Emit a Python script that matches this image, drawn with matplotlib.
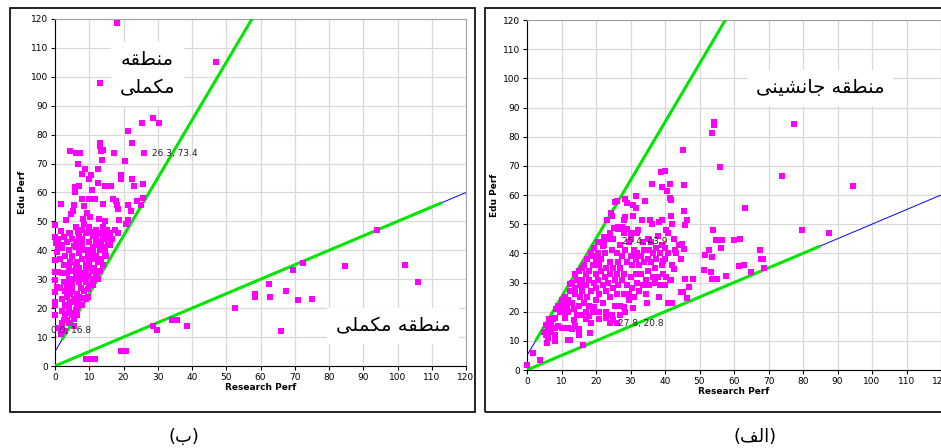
"""Two scatter panels (ب / الف) of Edu Perf vs Research Perf."""

import matplotlib

matplotlib.use("Agg")

import matplotlib.pyplot as plt
from matplotlib.patches import Rectangle

plt.rcParams["font.family"] = ["DejaVu Sans"]

# Persian strings written in visual order with Arabic presentation forms
# (matplotlib has no text shaping / bidi).
TXT_MANTAGHE_MOKAMMELI_2L = "\uFEEA\uFED8\uFEC4\uFEE8\uFEE3\n\uFEF0\uFEE0\uFEE4\uFEDC\uFEE3"
TXT_MANTAGHE_MOKAMMELI = "\uFEF0\uFEE0\uFEE4\uFEDC\uFEE3 \uFEEA\uFED8\uFEC4\uFEE8\uFEE3"
TXT_MANTAGHE_JANESHINI = "\uFEF0\uFEE8\uFEF4\uFEB8\uFEE7\uFE8E\uFE9F \uFEEA\uFED8\uFEC4\uFEE8\uFEE3"
CAPTION_B = "(\uFE8F)"
CAPTION_ALEF = "(\uFED2\uFEDF\uFE8D)"

# reference lines: y = intercept + slope * x
steep_line = (5.0, 2.0)
flat_line = (0.0, 0.5)
b_green_steep = (2.0, 60.0)
b_green_flat = (0.0, 113.0)
alef_green_steep = (2.5, 60.0)
alef_green_flat = (0.0, 85.0)

# panel (ب)
b_points = [
    (18.0, 118.6), (47.1, 105.2), (13.1, 97.7), (28.6, 85.8), (30.3, 84.1),
    (25.3, 84.1), (21.3, 81.1), (22.5, 77.2), (13.0, 77.2), (13.1, 76.0),
    (13.3, 74.3), (14.1, 74.6), (26.1, 73.5), (17.1, 73.5), (20.3, 70.8),
    (13.8, 71.1), (4.4, 74.2), (6.2, 73.8), (7.3, 73.8), (6.7, 70.0),
    (12.5, 68.0), (8.8, 68.1), (7.9, 66.5), (10.6, 66.2), (9.8, 64.6),
    (19.2, 64.6), (19.4, 66.2), (22.4, 64.6), (12.7, 63.4), (14.5, 62.4),
    (16.4, 62.4), (23.0, 62.4), (25.8, 62.8), (7.0, 62.4), (5.8, 61.8),
    (5.9, 60.2), (10.7, 60.9), (7.8, 57.6), (9.8, 57.6), (11.6, 57.6),
    (16.8, 57.9), (17.7, 56.9), (14.1, 56.0), (18.2, 55.8), (18.4, 54.4),
    (21.4, 55.8), (23.9, 57.2), (25.8, 58.1), (25.0, 55.8), (22.1, 53.7),
    (1.7, 56.0), (5.6, 55.8), (5.2, 53.5), (8.5, 55.3), (9.3, 52.8),
    (10.2, 51.6), (8.2, 50.9), (12.9, 50.7), (4.7, 52.6), (3.3, 50.5),
    (0.0, 48.7), (1.7, 46.7), (4.3, 46.1), (6.7, 46.3), (14.7, 50.2),
    (18.6, 50.5), (21.4, 50.5), (20.8, 49.2), (17.5, 47.0), (18.3, 45.9),
    (15.3, 47.2), (12.4, 45.9),
    (0.0, 44.5), (1.0, 44.0), (0.3, 42.5), (1.7, 42.0), (1.0, 40.7),
    (0.5, 39.5), (2.0, 40.7), (0.0, 36.6), (0.0, 32.6), (1.0, 32.6),
    (0.0, 29.7), (0.5, 27.4), (0.0, 25.6), (0.0, 22.2), (0.0, 21.0),
    (0.0, 17.6), (2.0, 14.9), (2.0, 13.5), (2.5, 15.8), (1.8, 11.2),
    (6.3, 17.8), (5.5, 16.4),
    (3.0, 18.0), (4.0, 20.0), (5.0, 17.5), (6.0, 19.5), (4.5, 22.0),
    (3.5, 24.0), (5.5, 23.0), (7.0, 22.0), (6.5, 25.0), (3.0, 26.0),
    (4.0, 27.0), (5.0, 28.0), (7.5, 27.0), (8.5, 26.0), (9.0, 29.0),
    (2.5, 29.0), (4.0, 30.0), (6.0, 31.0), (8.0, 30.0), (10.0, 31.0),
    (11.0, 30.0), (3.5, 32.0), (5.0, 33.0), (7.0, 34.0), (9.0, 33.0),
    (11.5, 34.0), (12.0, 32.0), (2.5, 35.0), (4.5, 36.0), (6.5, 36.0),
    (8.0, 37.0), (10.0, 36.0), (12.5, 36.0), (13.5, 37.0), (5.0, 38.0),
    (7.0, 39.0), (9.0, 40.0), (11.0, 39.0), (13.0, 40.0), (14.5, 41.0),
    (6.0, 41.0), (8.0, 42.0), (10.0, 43.0), (12.0, 42.0), (14.0, 44.0),
    (15.5, 43.0), (3.5, 43.0), (5.0, 44.0), (7.0, 45.0), (9.0, 46.0),
    (11.0, 45.0), (13.0, 46.0), (15.0, 47.0), (16.0, 42.0), (15.0, 38.0),
    (14.0, 35.0), (12.5, 30.0), (11.0, 28.0), (9.5, 24.0), (8.0, 21.0),
    (5.5, 14.0), (3.0, 12.0), (4.0, 15.0), (6.5, 20.0), (7.0, 29.0),
    (10.0, 34.0), (12.0, 38.0), (14.5, 39.0), (3.0, 38.0), (4.0, 40.0),
    (6.0, 43.0), (8.0, 44.0), (9.5, 38.0), (11.0, 41.0), (13.0, 43.0),
    (4.0, 34.0), (6.0, 35.0), (8.0, 32.0), (10.0, 28.0), (5.0, 26.0),
    (7.0, 24.0), (3.0, 21.0), (4.5, 25.0), (2.0, 23.0), (9.0, 31.0),
    (11.0, 33.0), (13.0, 33.0), (15.0, 45.0), (16.0, 46.0), (12.0, 47.0),
    (10.0, 48.0), (8.0, 47.0), (6.0, 48.0), (4.0, 46.0), (2.0, 19.0),
    (1.5, 27.0), (2.0, 32.0), (1.5, 37.0), (7.5, 40.0), (9.0, 35.0),
    (11.5, 37.0), (13.5, 42.0), (16.5, 44.0), (14.0, 48.0), (10.5, 46.5),
    (8.5, 49.0), (6.5, 33.0), (5.5, 30.0), (3.5, 28.0), (7.5, 31.5),
    (9.5, 26.5), (8.5, 23.5), (6.0, 22.0), (4.5, 18.5), (3.5, 16.0),
    (1.0, 13.0), (10.5, 40.0), (12.0, 44.0), (2.5, 44.5), (5.5, 41.5),
    (9.0, 23.0),
    (9.0, 2.3), (10.2, 2.3), (11.7, 2.3), (19.2, 5.2), (20.7, 5.2),
    (28.6, 13.9), (29.7, 12.6), (34.3, 15.8), (35.6, 15.8), (38.5, 13.9),
    (52.5, 20.2), (58.3, 24.8), (58.3, 23.9), (62.5, 28.2), (62.8, 23.9),
    (65.9, 12.1), (67.5, 26.1), (69.4, 33.1), (71.0, 22.8), (72.4, 35.7),
    (74.9, 23.2), (84.7, 34.7), (94.0, 47.0), (102.3, 35.0), (106.0, 29.1),
]
b_labels = [("26.3, 73.4", 28.4, 73.4), ("0.0, 16.8", -1.3, 12.2)]

# panel (الف)
alef_points = [
    (77.4, 84.2), (54.2, 85.2), (54.2, 84.0), (53.7, 81.4), (45.2, 75.4),
    (56.0, 69.5), (73.8, 66.5), (94.4, 63.0), (38.7, 67.9), (40.0, 68.2),
    (36.1, 63.9), (39.0, 62.6), (41.4, 63.9), (40.6, 61.3), (41.4, 59.0),
    (41.6, 58.2), (45.5, 63.3), (31.6, 59.7), (34.2, 57.9), (25.4, 57.5),
    (26.2, 57.8), (28.5, 58.5), (29.0, 57.2), (30.8, 56.6), (31.6, 55.4),
    (24.3, 53.7), (24.6, 52.8), (23.2, 51.4), (28.5, 52.3), (28.0, 51.4),
    (30.6, 52.8), (45.5, 54.6), (41.6, 52.7), (46.4, 51.4), (45.9, 49.7),
    (39.0, 51.4), (38.4, 50.6), (33.3, 51.4), (35.7, 51.4), (36.2, 50.1),
    (40.4, 48.0), (32.3, 48.0), (25.3, 48.7), (26.5, 49.1), (29.0, 48.2),
    (30.0, 46.9), (22.2, 45.7), (23.2, 45.7), (22.2, 42.9), (63.3, 55.4),
    (54.0, 48.1), (54.7, 44.6), (56.4, 44.6), (60.0, 44.6), (61.6, 44.9),
    (56.2, 41.9), (52.7, 41.1), (51.6, 39.3), (53.5, 38.6), (51.4, 34.3),
    (53.3, 33.7), (53.7, 31.1), (55.1, 31.3), (57.7, 32.1), (61.4, 35.8),
    (62.8, 36.0), (64.9, 33.7), (67.4, 41.1), (67.9, 37.9), (68.5, 38.1),
    (68.6, 35.1), (79.6, 48.0), (87.6, 47.0), (44.9, 43.3), (45.4, 41.6),
    (43.1, 40.0), (39.4, 37.5), (42.6, 34.5), (45.8, 31.1), (48.1, 31.1),
    (40.2, 31.8), (41.6, 30.9), (46.9, 28.6), (45.2, 26.6), (44.7, 26.9),
    (46.4, 24.6), (40.8, 22.9), (42.0, 22.9), (38.2, 25.0), (34.8, 23.1),
    (30.7, 21.1), (18.6, 16.2), (18.3, 12.6), (16.1, 8.7), (11.8, 10.3),
    (12.4, 10.3), (8.1, 10.1), (5.9, 9.1), (3.9, 3.4), (1.7, 5.9),
    (0.0, 1.6),
    (5.5, 12.0), (6.0, 14.0), (6.5, 15.0), (5.0, 13.0), (7.0, 16.0),
    (7.5, 17.5), (6.5, 17.5), (8.0, 18.0), (5.5, 15.5), (7.0, 13.0),
    (8.0, 14.5), (9.0, 15.0), (9.5, 20.0), (8.5, 21.0), (9.0, 22.0),
    (10.0, 23.0), (10.0, 24.0), (6.0, 11.0), (8.0, 12.0),
    (10.5, 21.0), (11.0, 25.0), (11.5, 22.0), (12.0, 24.0), (12.0, 20.0),
    (12.5, 27.0), (13.0, 23.0), (13.0, 30.0), (13.5, 21.0), (14.0, 26.0),
    (14.0, 28.0), (14.5, 19.0), (14.5, 31.0), (11.0, 18.0), (12.0, 14.5),
    (13.0, 14.0), (11.0, 14.5), (10.0, 14.5), (14.0, 15.0), (15.0, 14.0),
    (15.0, 12.0), (13.5, 17.0), (14.0, 33.0), (15.0, 34.0), (15.0, 22.0),
    (12.5, 29.5), (11.0, 19.0),
    (15.5, 25.0), (15.5, 29.0), (16.0, 27.0), (16.0, 31.0), (16.5, 23.0),
    (16.5, 36.0), (17.0, 20.0), (17.0, 33.0), (17.0, 29.0), (17.5, 38.0),
    (17.5, 25.0), (18.0, 22.0), (18.0, 31.0), (18.0, 34.0), (18.5, 40.0),
    (18.5, 27.0), (19.0, 36.0), (19.0, 20.0), (19.5, 30.0), (19.5, 42.0),
    (20.0, 24.0), (20.0, 33.0), (20.0, 38.0), (16.0, 19.0), (17.0, 17.5),
    (18.0, 18.5), (15.8, 35.0), (19.0, 39.0), (20.0, 28.0), (19.5, 21.5),
    (20.5, 40.0), (20.5, 31.0), (21.0, 36.0), (21.0, 26.0), (21.0, 20.0),
    (21.5, 34.0), (21.5, 38.0), (22.0, 29.0), (22.0, 44.0), (22.0, 23.0),
    (22.5, 32.0), (22.5, 40.0), (23.0, 27.0), (23.0, 35.0), (23.0, 20.0),
    (23.5, 45.0), (23.5, 30.0), (24.0, 37.0), (24.0, 25.0), (24.0, 33.0),
    (24.5, 41.0), (24.5, 19.0), (25.0, 28.0), (25.0, 35.0), (25.0, 45.0),
    (25.5, 31.0), (25.5, 22.0), (25.0, 17.0), (24.0, 16.0), (23.0, 18.0),
    (21.0, 17.5), (22.0, 42.5), (20.5, 44.0), (24.0, 47.0),
    (26.0, 33.0), (26.0, 40.0), (26.0, 26.0), (26.5, 37.0), (26.5, 29.0),
    (27.0, 43.0), (27.0, 22.0), (27.0, 35.0), (27.5, 39.0), (27.5, 31.0),
    (28.0, 26.0), (28.0, 47.0), (28.0, 33.0), (28.5, 41.0), (28.5, 20.0),
    (29.0, 37.0), (29.0, 29.0), (29.5, 44.0), (29.5, 24.0), (30.0, 39.0),
    (30.0, 32.0), (26.0, 16.0), (27.0, 19.0), (28.0, 21.5), (29.5, 26.0),
    (26.5, 48.5), (27.5, 49.0), (30.0, 45.0),
    (30.5, 36.0), (30.5, 28.0), (31.0, 41.0), (31.0, 25.0), (31.5, 38.0),
    (31.5, 33.0), (32.0, 30.0), (32.0, 40.0), (32.0, 47.0), (32.5, 27.0),
    (32.5, 36.0), (33.0, 39.0), (33.0, 33.0), (33.5, 44.0), (33.5, 29.0),
    (34.0, 37.0), (34.0, 41.0), (34.5, 26.0), (34.5, 31.0), (35.0, 38.0),
    (35.0, 45.0), (35.0, 34.0),
    (35.5, 41.0), (35.5, 29.0), (36.0, 37.0), (36.0, 44.0), (36.5, 32.0),
    (36.5, 40.0), (37.0, 35.0), (37.0, 30.0), (37.5, 42.0), (37.5, 38.0),
    (38.0, 32.0), (38.0, 46.0), (38.5, 29.0), (38.5, 40.0), (39.0, 36.0),
    (39.0, 43.0), (39.5, 33.0), (40.0, 42.0), (40.0, 29.0), (40.0, 38.0),
    (41.0, 40.0), (41.5, 31.0), (42.0, 36.0), (42.5, 45.0), (43.0, 41.0),
    (44.0, 43.0), (41.0, 47.0), (42.0, 50.0), (44.5, 38.0),
]
alef_labels = [("25.4, 43.9", 27.5, 44.2), ("27.8, 20.8", 26.4, 16.0)]

MAGENTA = "#ff00ff"
GREEN = "#00e600"
BLUE = "#0000ff"


def _draw_line(ax, line, x0, x1, color, lw):
    b, m = line
    ax.plot([x0, x1], [b + m * x0, b + m * x1], color=color, lw=lw,
            solid_capstyle="butt", zorder=3, clip_on=True)


def _panel(ax, points, labels, green_steep, green_flat):
    ax.set_xlim(0, 120)
    ax.set_ylim(0, 120)
    ax.set_xticks(range(0, 121, 10))
    ax.set_yticks(range(0, 121, 10))
    ax.grid(True, color="#d9d9d9", linewidth=0.9)
    ax.set_axisbelow(True)
    for side in ("top", "right"):
        ax.spines[side].set_color("#a0a0a0")
    for side in ("left", "bottom"):
        ax.spines[side].set_color("black")
    ax.tick_params(labelsize=6.5, length=3, width=0.8, direction="out", pad=2)
    ax.set_xlabel("Research Perf", fontsize=6.5, fontweight="bold", labelpad=1)
    ax.set_ylabel("Edu Perf", fontsize=6.5, fontweight="bold", labelpad=3)

    _draw_line(ax, steep_line, 0, 60, BLUE, 0.7)
    _draw_line(ax, flat_line, 0, 120, BLUE, 0.7)
    _draw_line(ax, steep_line, green_steep[0], green_steep[1], GREEN, 2.2)
    _draw_line(ax, flat_line, green_flat[0], green_flat[1], GREEN, 2.2)

    xs = [p[0] for p in points]
    ys = [p[1] for p in points]
    ax.scatter(xs, ys, marker="s", s=22, color=MAGENTA, linewidths=0,
               zorder=4, clip_on=False)
    for text, x, y in labels:
        ax.text(x, y, text, fontsize=6.5, color="#222222", va="center",
                ha="left", zorder=5)


fig = plt.figure(figsize=(9.41, 4.48), dpi=100)

# outer frames
fig.add_artist(Rectangle((10 / 941, 1 - 412 / 448), 465 / 941, 404 / 448,
                         transform=fig.transFigure, fill=False,
                         edgecolor="black", linewidth=1.2))
fig.add_artist(Rectangle((485 / 941, 1 - 412 / 448), 470 / 941, 404 / 448,
                         transform=fig.transFigure, fill=False,
                         edgecolor="black", linewidth=1.2))

ax_b = fig.add_axes([55 / 941, 1 - 366 / 448, 411 / 941, 347 / 448])
ax_a = fig.add_axes([527 / 941, 1 - 370 / 448, 414 / 941, 350 / 448])

_panel(ax_b, b_points, b_labels, b_green_steep, b_green_flat)
_panel(ax_a, alef_points, alef_labels, alef_green_steep, alef_green_flat)

box = {"facecolor": "white", "edgecolor": "none", "pad": 6}
ax_b.text(27.0, 101.0, TXT_MANTAGHE_MOKAMMELI_2L, fontsize=14, ha="center",
          va="center", linespacing=1.6, bbox=box, zorder=6)
ax_b.text(98.7, 13.8, TXT_MANTAGHE_MOKAMMELI, fontsize=14, ha="center",
          va="center", bbox=box, zorder=6)
ax_a.text(85.0, 96.7, TXT_MANTAGHE_JANESHINI, fontsize=14, ha="center",
          va="center", bbox=box, zorder=6)

fig.text(184 / 941, 1 - 437 / 448, CAPTION_B, fontsize=13,
         ha="center", va="center")
fig.text(755 / 941, 1 - 437 / 448, CAPTION_ALEF, fontsize=13,
         ha="center", va="center")

fig.savefig("out.png", dpi=100)
